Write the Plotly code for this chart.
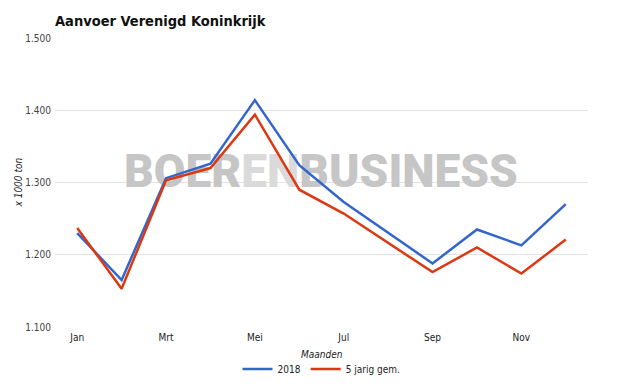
import plotly.graph_objects as go

months = ["Jan", "Feb", "Mrt", "Apr", "Mei", "Jun", "Jul", "Aug", "Sep", "Okt", "Nov", "Dec"]
tick_months = ["Jan", "Mrt", "Mei", "Jul", "Sep", "Nov"]
vals_2018 = [1230, 1165, 1306, 1326, 1414, 1324, 1273, 1231, 1188, 1235, 1213, 1270]
vals_5jr = [1237, 1153, 1303, 1320, 1394, 1290, 1257, 1217, 1176, 1210, 1174, 1221]
y_ticks = [1100, 1200, 1300, 1400, 1500]
y_ticktext = ["1.100", "1.200", "1.300", "1.400", "1.500"]

FONT = "DejaVu Sans Condensed, DejaVu Sans, sans-serif"

fig = go.Figure()
# watermark on the hidden base subplot (drawn beneath the data lines)
fig.add_trace(go.Scatter(
    x=[(321 - 55) / 533], y=[1 - (175 - 38) / 289], mode="text",
    text=["BOER<span style='fill:#dadada'>EN</span>BUSINESS"],
    textposition="middle center", showlegend=False, hoverinfo="skip",
    textfont=dict(family="Roboto, Liberation Sans, sans-serif", size=46,
                  color="#c6c6c6", weight=900),
    xaxis="x", yaxis="y"))
fig.add_trace(go.Scatter(x=months, y=vals_2018, mode="lines", name="2018",
                         line=dict(color="#3366cc", width=2.5), xaxis="x2", yaxis="y2"))
fig.add_trace(go.Scatter(x=months, y=vals_5jr, mode="lines", name="5 jarig gem.",
                         line=dict(color="#dc3912", width=2.5), xaxis="x2", yaxis="y2"))

fig.update_layout(
    width=625, height=387,
    margin=dict(l=55, r=37, t=38, b=60),
    paper_bgcolor="white", plot_bgcolor="white",
    font=dict(family=FONT, size=10, color="#444"),
    title=dict(text="<b>Aanvoer Verenigd Koninkrijk</b>", x=55/625, xanchor="left",
               y=1 - 21/387, yanchor="middle",
               font=dict(family=FONT, size=14.5, color="#111")),
    showlegend=True,
    legend=dict(orientation="h", x=0.5, xanchor="center", yref="container",
                y=1 - 369/387, yanchor="middle",
                font=dict(family=FONT, size=10, color="#222"), bgcolor="rgba(0,0,0,0)",
                itemwidth=30),
    xaxis=dict(range=[0, 1], visible=False, fixedrange=True),
    yaxis=dict(range=[0, 1], visible=False, fixedrange=True),
    xaxis2=dict(overlaying="x", type="category", categoryorder="array", categoryarray=months,
                tickmode="array", tickvals=tick_months, ticktext=tick_months,
                showgrid=False, showline=False, zeroline=False, ticks="", automargin=False,
                ticklabelstandoff=3,
                tickfont=dict(size=10, color="#222"), range=[-0.5, 11.5]),
    yaxis2=dict(overlaying="y", range=[1100, 1500], tickmode="array", tickvals=y_ticks,
                ticktext=y_ticktext, showgrid=True, gridcolor="#e3e3e3", gridwidth=1,
                zeroline=False, showline=False, ticks="", automargin=False,
                ticklabelstandoff=3,
                tickfont=dict(size=10, color="#444")),
)

fig.add_annotation(text="<i>Maanden</i>", xref="paper", yref="paper", x=0.5, y=-(354-327)/289,
                   xanchor="center", yanchor="middle", showarrow=False,
                   font=dict(family=FONT, size=10, color="#222"))
fig.add_annotation(text="<i>x 1000 ton</i>", xref="paper", yref="paper", x=(18-55)/533, y=0.5,
                   xanchor="center", yanchor="middle", showarrow=False, textangle=-90,
                   font=dict(family=FONT, size=10, color="#222"))

fig.write_html("out.html", config={"displayModeBar": False},
               post_script="document.body.style.margin='0';")
